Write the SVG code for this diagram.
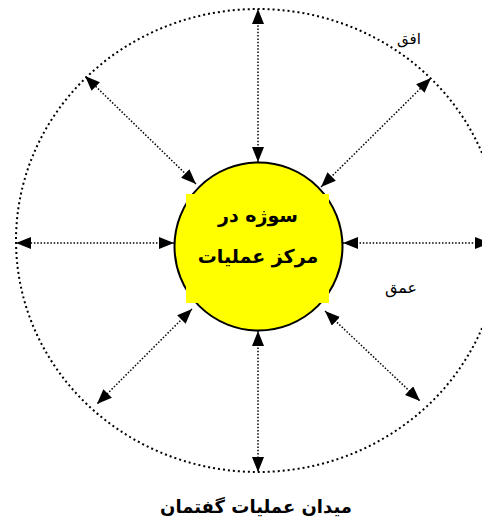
<svg xmlns="http://www.w3.org/2000/svg" width="482" height="523" viewBox="0 0 482 523">
<style>
.con{stroke:#000;stroke-width:1.5;stroke-dasharray:1.5 1.8;fill:none;marker-start:url(#ah);marker-end:url(#ah)}
.lbl{font-family:"DejaVu Sans",sans-serif;fill:#000}
.b{font-weight:bold}
</style>
<defs>
<marker id="ah" markerUnits="userSpaceOnUse" markerWidth="16" markerHeight="12" refX="15" refY="6" orient="auto-start-reverse" viewBox="0 0 16 12">
<path d="M0,0 L15,6 L0,12 Z" fill="#000"/>
</marker>
</defs>
<rect width="482" height="523" fill="#fff"/>
<g id="horizon">
<ellipse cx="258" cy="240.5" rx="242" ry="231.5" fill="none" stroke="#000" stroke-width="2" stroke-dasharray="2 3"/>
</g>
<g id="connectors">
<line class="con" x1="258" y1="162" x2="258" y2="9"/>
<line class="con" x1="258" y1="331" x2="258" y2="472"/>
<line class="con" x1="174" y1="243" x2="16" y2="243"/>
<line class="con" x1="343" y1="243" x2="490" y2="243"/>
<line class="con" x1="196" y1="184" x2="85" y2="76"/>
<line class="con" x1="321" y1="187" x2="431" y2="78"/>
<line class="con" x1="325" y1="311" x2="420" y2="401"/>
<line class="con" x1="192" y1="309" x2="97" y2="404"/>
</g>
<g id="subject">
<circle cx="258.5" cy="246.5" r="84" fill="#ffff00" stroke="#000" stroke-width="2"/>
<rect x="186" y="194" width="143" height="109" fill="#ffff00"/>
<text class="lbl b" x="258" y="222" font-size="19" text-anchor="middle" direction="rtl">سوژه در</text>
<text class="lbl b" x="258" y="263" font-size="19" text-anchor="middle" direction="rtl">مرکز عملیات</text>
</g>
<g id="label-ofogh">
<text class="lbl" x="409" y="44" font-size="15" text-anchor="middle" direction="rtl">افق</text>
</g>
<g id="label-omgh">
<text class="lbl" x="401" y="293" font-size="16" text-anchor="middle" direction="rtl">عمق</text>
</g>
<g id="title">
<text class="lbl b" x="256" y="513" font-size="18" text-anchor="middle" direction="rtl">ميدان عمليات گفتمان</text>
</g>
</svg>
